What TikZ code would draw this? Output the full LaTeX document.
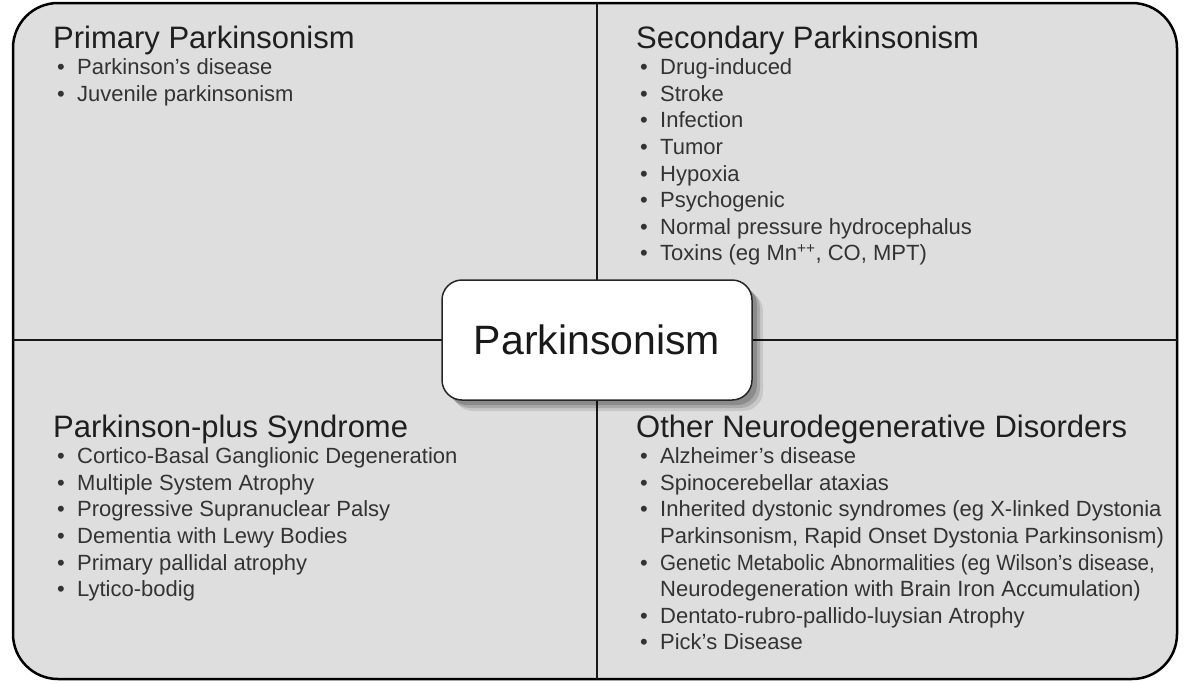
\documentclass[tikz,border=0pt]{standalone}
\usepackage{fontspec}
\setmainfont{Liberation Sans}
\usetikzlibrary{shadows}

\tikzset{
  frame/.style={draw=black, line width=2.5pt, fill=black!13, rounded corners=45pt},
  divider/.style={draw=black!90, line width=2pt},
  heading/.style={anchor=base west, inner sep=0pt, font=\fontsize{31}{36}\selectfont, text=black!88},
  entry/.style={anchor=base west, inner sep=0pt, font=\fontsize{22}{26}\selectfont, text=black!80},
  hub/.style={draw=black!85, line width=1.5pt, fill=white, rounded corners=20pt,
    minimum width=310pt, minimum height=120pt, text height=29pt, text depth=0pt,
    font=\fontsize{41}{48}\selectfont, text=black!90,
    drop shadow={shadow xshift=11pt, shadow yshift=-11pt, opacity=0.10, fill=black},
    drop shadow={shadow xshift=8pt, shadow yshift=-8pt, opacity=0.14, fill=black},
    drop shadow={shadow xshift=5pt, shadow yshift=-5pt, opacity=0.18, fill=black}},
}
\newcommand{\bl}{\makebox[20pt][l]{\textbullet}}
\newcommand{\bc}{\hspace*{20pt}}
\newcommand{\narrow}[1]{\scalebox{0.935}[1]{#1}}

\begin{document}
\begin{tikzpicture}[x=1pt, y=-1pt]
    \useasboundingbox (0,0) rectangle (1186,683);

    % Frame and quadrants
    \draw[frame] (13,3) rectangle (1177,679);
    \coordinate (top) at (597,3);
    \coordinate (bottom) at (597,679);
    \coordinate (left) at (13,340);
    \coordinate (right) at (1177,340);
    \draw[divider] (top) -- (bottom);
    \draw[divider] (left) -- (right);

    % Primary Parkinsonism
    \node[heading] (prim) at (53,48) {Primary Parkinsonism};
    \foreach \t [count=\i] in {Parkinson’s disease, Juvenile parkinsonism}
        \node[entry] (prim-\i) at (57,{48+26.6*\i}) {\bl\t};

    % Secondary Parkinsonism
    \node[heading] (sec) at (636,48) {Secondary Parkinsonism};
    \foreach \t [count=\i] in {Drug-induced, Stroke, Infection, Tumor, Hypoxia,
        Psychogenic, Normal pressure hydrocephalus,
        {Toxins (eg Mn\textsuperscript{++}, CO, MPT)}}
        \node[entry] (sec-\i) at (640,{48+26.6*\i}) {\bl\t};

    % Parkinson-plus Syndrome
    \node[heading] (plus) at (53,437) {Parkinson-plus Syndrome};
    \foreach \t [count=\i] in {Cortico-Basal Ganglionic Degeneration,
        Multiple System Atrophy, Progressive Supranuclear Palsy,
        Dementia with Lewy Bodies, Primary pallidal atrophy, Lytico-bodig}
        \node[entry] (plus-\i) at (57,{437+26.6*\i}) {\bl\t};

    % Other Neurodegenerative Disorders
    \node[heading] (other) at (636,437) {Other Neurodegenerative Disorders};
    \foreach \t [count=\i] in {\bl Alzheimer’s disease, \bl Spinocerebellar ataxias,
        \bl Inherited dystonic syndromes (eg X-linked Dystonia,
        {\bc Parkinsonism, Rapid Onset Dystonia Parkinsonism)},
        {\bl\narrow{Genetic Metabolic Abnormalities (eg Wilson’s disease,}},
        \bc Neurodegeneration with Brain Iron Accumulation),
        \bl Dentato-rubro-pallido-luysian Atrophy, \bl Pick’s Disease}
        \node[entry] (other-\i) at (640,{437+26.6*\i}) {\t};

    % Centre
    \node[hub] (park) at (597,340) {Parkinsonism};
\end{tikzpicture}
\end{document}
